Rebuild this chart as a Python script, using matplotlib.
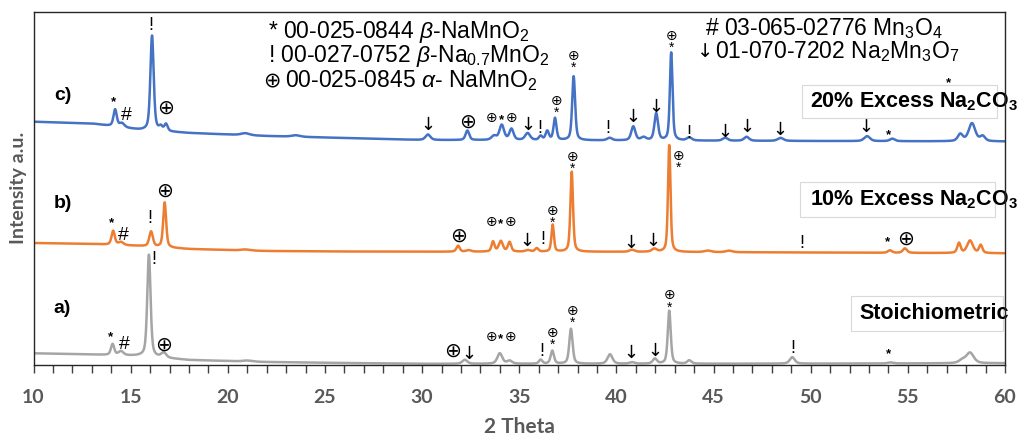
import numpy as np
import matplotlib
matplotlib.use('Agg')
import matplotlib.pyplot as plt
from matplotlib.patches import Rectangle
from matplotlib.ticker import MultipleLocator

# ---------------- data ----------------
series_names = ['a)', 'b)', 'c)']
series_colors = ['#A5A5A5', '#ED7D31', '#4472C4']

baseline_2theta = [10, 13, 15.5, 18, 22, 26, 30, 40, 50, 60]
baseline_a = [11.7, 10.5, 9.0, 5.0, 3.0, 2.0, 1.2, 1.2, 1.4, 1.8]
baseline_b = [122.0, 121.0, 119.0, 116.0, 114.0, 113.5, 113.3, 113.2, 112.5, 111.7]
baseline_c = [243.3, 241.5, 235.0, 232.0, 229.0, 227.0, 225.0, 224.5, 224.0, 223.5]

peaks_a_pos = [14.07, 14.5, 15.94, 16.7, 21.0, 32.2, 34.0, 34.5, 36.1, 36.7, 37.66,
               39.67, 40.8, 41.98, 42.72, 43.75, 49.05, 54.1, 57.8, 58.2]
peaks_a_height = [11, 4, 102, 5, 1, 4, 10.5, 3, 4, 13, 35, 9.5, 1.5, 5, 53, 3.3, 6.5, 1, 3, 10.5]
peaks_a_fwhm = [0.2, 0.3, 0.2, 0.3, 0.5, 0.3, 0.3, 0.3, 0.2, 0.2, 0.2, 0.3, 0.3, 0.25, 0.18,
                0.25, 0.3, 0.3, 0.4, 0.45]

peaks_b_pos = [14.1, 14.5, 16.05, 16.75, 20.9, 31.85, 32.4, 33.65, 34.05, 34.5, 35.45, 35.9,
               36.72, 37.7, 40.8, 41.95, 42.72, 44.7, 45.8, 54.08, 54.85, 57.63, 58.2, 58.75]
peaks_b_height = [14, 3, 15, 45, 1, 6, 1.5, 10, 10.5, 9.5, 1.5, 3.5, 27, 80, 2, 3, 107, 1.5,
                  1.5, 2.5, 4.5, 10, 12.5, 8]
peaks_b_fwhm = [0.2, 0.3, 0.22, 0.18, 0.5, 0.2, 0.3, 0.18, 0.25, 0.2, 0.3, 0.2, 0.15, 0.16,
                0.3, 0.3, 0.15, 0.4, 0.4, 0.25, 0.25, 0.2, 0.35, 0.2]

peaks_c_pos = [14.2, 14.55, 16.1, 16.55, 16.82, 20.9, 23.5, 30.3, 32.33, 33.7, 34.1, 34.6,
               35.43, 36.1, 36.44, 36.84, 37.8, 39.65, 40.87, 41.4, 42.05, 42.82, 43.75, 45.6,
               46.7, 48.45, 52.9, 54.2, 57.7, 58.3, 58.85]
peaks_c_height = [17, 4, 95, 4, 7, 2, 1.5, 5.5, 9.5, 4, 15, 11, 7, 4, 9, 22, 64, 2.5, 14, 3,
                  27, 88, 3, 3, 4, 3, 5, 2.5, 7, 18, 5]
peaks_c_fwhm = [0.2, 0.3, 0.2, 0.2, 0.2, 0.5, 0.5, 0.3, 0.22, 0.3, 0.28, 0.25, 0.3, 0.2, 0.2,
                0.18, 0.18, 0.3, 0.25, 0.3, 0.22, 0.16, 0.3, 0.3, 0.3, 0.35, 0.35, 0.3, 0.3,
                0.4, 0.3]

# phase markers (2theta, intensity position)
OPLUS = '\u2295'
DOWN = '\u2193'
markers_big_oplus = [(16.82, 257), (32.33, 243), (16.73, 173.3), (31.9, 128.3),
                     (54.89, 125.7), (16.68, 20), (31.58, 13.3)]
markers_oplus_star = [(36.93, 265), (37.8, 310), (42.82, 330),
                      (36.72, 155), (37.75, 209.3), (43.22, 210),
                      (36.7, 33.3), (37.73, 55), (42.72, 70.7)]
markers_small_oplus = [(33.58, 247.3), (34.61, 247.3),
                       (33.55, 143.3), (34.55, 143.3),
                       (33.55, 28.3), (34.55, 28.3)]
markers_star = [(14.1, 263.3), (53.99, 230), (57.1, 282),
                (13.99, 142), (53.96, 123.3),
                (13.94, 28.3), (53.99, 10.7),
                (34.1, 244.5), (34.05, 140.5), (34.05, 25.5)]
markers_hash = [(14.76, 250), (14.62, 130), (14.66, 21)]
markers_excl = [(16.05, 340), (36.07, 237), (39.58, 237), (43.75, 232),
                (16.0, 147), (36.2, 125.7), (49.54, 121.7),
                (16.17, 105.7), (36.15, 13.3), (49.07, 16.7)]
markers_arrow = [(30.29, 240), (35.43, 240), (40.87, 248), (42.04, 258), (45.59, 233),
                 (46.7, 238), (48.42, 235), (52.83, 238),
                 (35.41, 124.3), (40.75, 122.3), (41.9, 124.3),
                 (32.4, 11), (40.75, 12.3), (41.99, 14.3)]

legend_lines = ['* 00-025-0844 $\\beta$-NaMnO$_2$',
                '! 00-027-0752 $\\beta$-Na$_{0.7}$MnO$_2$',
                '00-025-0845 $\\alpha$- NaMnO$_2$',
                '# 03-065-02776 Mn$_3$O$_4$',
                '01-070-7202 Na$_2$Mn$_3$O$_7$']
sample_labels = ['Stoichiometric', '10% Excess Na$_\\mathbf{2}$CO$_\\mathbf{3}$',
                 '20% Excess Na$_\\mathbf{2}$CO$_\\mathbf{3}$']

# ---------------- drawing ----------------
plt.rcParams['mathtext.fontset'] = 'custom'
plt.rcParams['mathtext.rm'] = 'Liberation Sans'
plt.rcParams['mathtext.it'] = 'Liberation Sans:italic'
plt.rcParams['mathtext.bf'] = 'Liberation Sans:bold'

ANN = ['Liberation Sans', 'DejaVu Sans']
AX_FONT = ['Lato', 'DejaVu Sans']
GREY_TXT = '#595959'

fig = plt.figure(figsize=(10.23, 4.36), dpi=100)
ax = fig.add_axes([0.03275, 0.16284, 0.94965, 0.81078])

tt = np.linspace(10, 60, 6001)


def pattern(base, pos, hgt, fwhm):
    y = np.interp(tt, baseline_2theta, base)
    for p, h, w in zip(pos, hgt, fwhm):
        d = (tt - p) / w
        y = y + h * (0.5 / (1 + 4 * d ** 2) + 0.5 * np.exp(-4 * np.log(2) * d ** 2))
    return y


ya = pattern(baseline_a, peaks_a_pos, peaks_a_height, peaks_a_fwhm)
yb = pattern(baseline_b, peaks_b_pos, peaks_b_height, peaks_b_fwhm)
yc = pattern(baseline_c, peaks_c_pos, peaks_c_height, peaks_c_fwhm)
for y, col in zip([ya, yb, yc], series_colors):
    ax.plot(tt, y, color=col, lw=1.8, solid_joinstyle='round', zorder=2)

ax.set_xlim(10, 60)
ax.set_ylim(0, 353.5)
ax.set_yticks([])
ax.xaxis.set_major_locator(MultipleLocator(5))
ax.xaxis.set_minor_locator(MultipleLocator(1))
ax.tick_params(axis='x', which='both', direction='out', length=6, width=1, color='#404040')
ax.tick_params(axis='x', which='major', pad=11, labelsize=14, labelcolor=GREY_TXT)
for lab in ax.get_xticklabels():
    lab.set_fontweight('bold')
    lab.set_family(AX_FONT)
for sp in ax.spines.values():
    sp.set_color('#262626')
    sp.set_linewidth(1.0)
    sp.set_zorder(6)

ax.set_xlabel('2 Theta', fontsize=15, fontweight='bold', color=GREY_TXT, family=AX_FONT)
ax.xaxis.set_label_coords(0.5, -0.1745)
ax.xaxis.label.set_va('center')
ax.set_ylabel('Intensity a.u.', fontsize=14, fontweight='bold', color=GREY_TXT, family=AX_FONT)
ax.yaxis.set_label_coords(-0.0156, 0.5)
ax.yaxis.label.set_va('center')


def put(sym, x, y, size, weight='normal', family=ANN, **kw):
    ax.text(x, y, sym, fontsize=size, ha='center', va='center', family=family,
            fontweight=weight, color='black', zorder=3, **kw)


for x, y in markers_big_oplus:
    put(OPLUS, x, y, 14.5)
for x, y in markers_oplus_star:
    put(OPLUS + '\n*', x, y - 7, 10, linespacing=0.85, multialignment='center')
for x, y in markers_small_oplus:
    put(OPLUS, x, y, 10)
for x, y in markers_star:
    put('*', x, y, 9.5, 'bold')
for x, y in markers_hash:
    put('#', x, y, 14)
for x, y in markers_excl:
    put('!', x, y, 13)
for x, y in markers_arrow:
    put(DOWN, x, y, 13, family='DejaVu Sans')

# series labels
for name, yy in zip(series_names, [57, 162, 270]):
    ax.text(11.49, yy, name, fontsize=14, fontweight='bold', ha='center', va='center',
            family=ANN, zorder=3)

# legend text
legend_pos = [(22.07, 327), (22.07, 303.5), (22.94, 278), (44.56, 330), (45.1, 307)]
for txt, (x, y) in zip(legend_lines, legend_pos):
    ax.text(x, y, txt, fontsize=16.5, ha='left', va='baseline', family=ANN, zorder=3)
ax.text(22.25, 284.5, OPLUS, fontsize=15, ha='center', va='center', family=ANN, zorder=3)
ax.text(44.58, 313.5, DOWN, fontsize=14, ha='center', va='center', family='DejaVu Sans',
        zorder=3)

# sample boxes
boxes = [(52.06, 34.0, 7.84, 35.3), (49.45, 148.3, 10.03, 35.0), (49.54, 247.0, 10.03, 33.0)]
text_pos = [(52.5, 51.5), (49.96, 165.0), (49.96, 263.0)]
for (bx, by, bw, bh), (tx, ty), lab in zip(boxes, text_pos, sample_labels):
    ax.add_patch(Rectangle((bx, by), bw, bh, facecolor='white', edgecolor='#D9D9D9',
                           lw=0.8, zorder=4))
    ax.text(tx, ty, lab, fontsize=15.5, fontweight='bold', ha='left', va='center',
            family=ANN, zorder=5, clip_on=False)

fig.savefig('out.png', dpi=100)
